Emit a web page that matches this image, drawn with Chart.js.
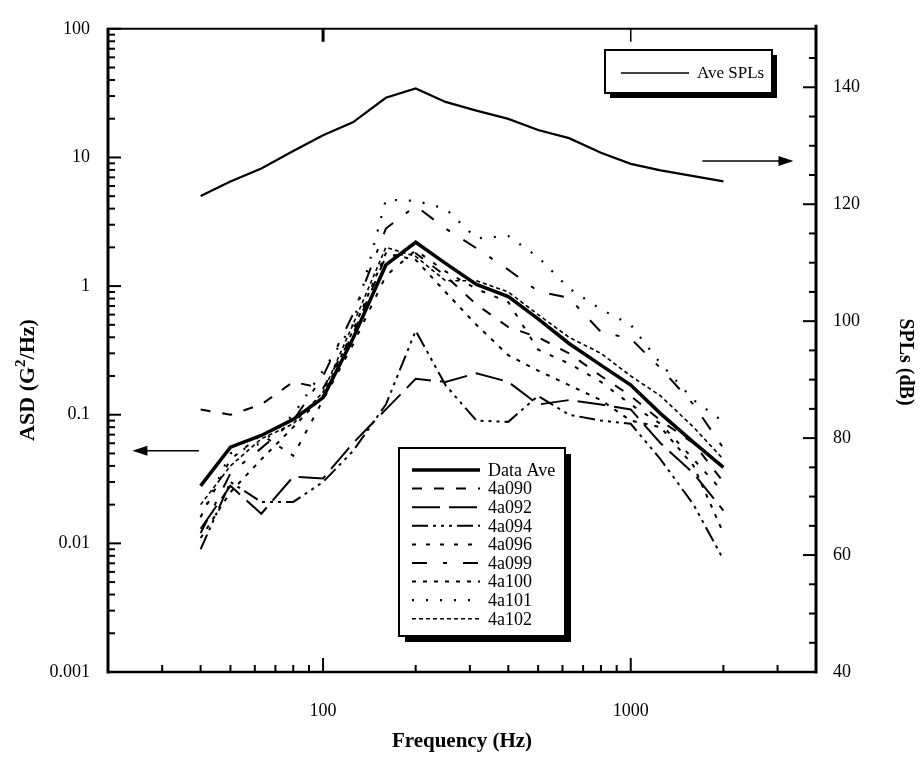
<!DOCTYPE html>
<html>
<head>
<meta charset="utf-8">
<script src="https://cdn.jsdelivr.net/npm/chart.js@4.4.1/dist/chart.umd.min.js"></script>
<style>
  html, body { margin: 0; padding: 0; background: #fff; }
</style>
</head>
<body>
<canvas id="chart-asd" width="922" height="760"></canvas>
<script>
// ---- data ----
const freqHz = [40, 50, 63, 80, 100, 125, 160, 200, 250, 315, 400, 500, 630, 800, 1000, 1250, 1600, 2000];

const aveSpl = [121.4, 123.9, 126.1, 129.1, 131.8, 134.0, 138.2, 139.8, 137.5, 136.0, 134.6, 132.7, 131.3, 128.8, 126.9, 125.8, 124.8, 123.9];

const dataAve = [0.028, 0.056, 0.069, 0.092, 0.136, 0.39, 1.46, 2.19, 1.5, 1.03, 0.83, 0.556, 0.358, 0.243, 0.17, 0.102, 0.061, 0.039];
const s4a090 = [0.11, 0.10, 0.12, 0.18, 0.16, 0.42, 1.7, 1.8, 1.2, 0.72, 0.48, 0.4, 0.3, 0.2, 0.14, 0.09, 0.06, 0.03];
const s4a092 = [0.013, 0.028, 0.017, 0.033, 0.032, 0.06, 0.11, 0.19, 0.18, 0.21, 0.18, 0.12, 0.13, 0.12, 0.11, 0.06, 0.035, 0.018];
const s4a094 = [0.009, 0.03, 0.021, 0.021, 0.03, 0.052, 0.12, 0.45, 0.17, 0.09, 0.088, 0.14, 0.1, 0.09, 0.085, 0.045, 0.02, 0.0075];
const s4a096 = [0.016, 0.045, 0.07, 0.048, 0.13, 0.35, 1.2, 1.9, 1.3, 0.95, 0.75, 0.32, 0.25, 0.18, 0.12, 0.085, 0.045, 0.025];
const s4a099 = [0.012, 0.035, 0.055, 0.09, 0.2, 0.6, 2.8, 4.2, 2.8, 1.97, 1.34, 0.91, 0.81, 0.44, 0.39, 0.23, 0.12, 0.055];
const s4a100 = [0.011, 0.025, 0.045, 0.08, 0.14, 0.45, 1.8, 1.6, 0.9, 0.5, 0.29, 0.22, 0.17, 0.13, 0.09, 0.08, 0.04, 0.012];
const s4a101 = [0.016, 0.05, 0.06, 0.1, 0.22, 0.5, 4.7, 4.6, 4.0, 2.35, 2.45, 1.68, 0.96, 0.66, 0.5, 0.25, 0.13, 0.088];
const s4a102 = [0.02, 0.04, 0.065, 0.085, 0.15, 0.5, 2.0, 1.7, 1.1, 1.1, 0.9, 0.6, 0.4, 0.3, 0.2, 0.14, 0.08, 0.045];

// ticks
const xLabelTicks = [100, 1000];
const xMinorTicks = [30, 40, 50, 60, 70, 80, 90, 200, 300, 400, 500, 600, 700, 800, 900, 2000, 3000];
const yLabelTicks = [0.001, 0.01, 0.1, 1, 10, 100];
const y2LabelTicks = [40, 60, 80, 100, 120, 140];

// arrows (data coordinates): [x from, x to, y]
const arrowAsd = [39.5, 24, 0.0525];
const arrowSpl = [1710, 3380, 127.4];

const serif = "'Liberation Serif', 'Times New Roman', serif";

function series(label, values, dash, width, axis) {
    return {
        label: label,
        data: freqHz.map((f, i) => ({ x: f, y: values[i] })),
        borderColor: '#000',
        backgroundColor: '#000',
        borderWidth: width,
        borderDash: dash,
        pointRadius: 0,
        tension: 0,
        fill: false,
        yAxisID: axis || 'y'
    };
}

const datasets = [
    series('Ave SPLs', aveSpl, [], 2.2, 'y2'),
    series('Data Ave', dataAve, [], 3.5),
    series('4a090', s4a090, [10, 12], 2),
    series('4a092', s4a092, [28, 9], 2),
    series('4a094', s4a094, [16, 5, 3, 5, 3, 5, 3, 5], 2),
    series('4a096', s4a096, [4, 10], 2),
    series('4a099', s4a099, [15, 16, 4, 16], 2),
    series('4a100', s4a100, [4, 7], 2),
    series('4a101', s4a101, [2, 12], 2.2),
    series('4a102', s4a102, [4, 3], 1.6)
];

// --- helpers ---
function seg(ctx, x1, y1, x2, y2, w) {
    ctx.lineWidth = w;
    ctx.beginPath();
    ctx.moveTo(x1, y1);
    ctx.lineTo(x2, y2);
    ctx.stroke();
}

function arrow(ctx, x1, y, x2) {
    const dir = x2 > x1 ? 1 : -1;
    seg(ctx, x1, y, x2 - dir * 12, y, 1.6);
    ctx.beginPath();
    ctx.moveTo(x2, y);
    ctx.lineTo(x2 - dir * 15, y - 5);
    ctx.lineTo(x2 - dir * 15, y + 5);
    ctx.closePath();
    ctx.fill();
}

function shadowBox(ctx, x, y, w, h, s) {
    ctx.fillStyle = '#000';
    ctx.fillRect(x + s, y + s, w, h);
    ctx.fillStyle = '#fff';
    ctx.fillRect(x, y, w, h);
    ctx.lineWidth = 2;
    ctx.strokeRect(x, y, w, h);
}

function sample(ctx, ds, x1, x2, y) {
    ctx.save();
    ctx.setLineDash(ds.borderDash);
    seg(ctx, x1, y, x2, y, ds.borderWidth);
    ctx.restore();
}

// frame, inward tick marks, arrows, legends, side titles
const decorPlugin = {
    id: 'decor',
    afterDraw(chart) {
        const { ctx, chartArea: a, scales } = chart;
        const sx = scales.x, sy = scales.y, s2 = scales.y2;
        ctx.save();
        ctx.strokeStyle = '#000';
        ctx.fillStyle = '#000';

        // frame
        seg(ctx, a.left, a.top - 1, a.left, a.bottom + 1.5, 3);
        seg(ctx, a.right, a.top - 4, a.right, a.bottom + 1.5, 3);
        seg(ctx, a.left, a.bottom, a.right, a.bottom, 2.5);
        seg(ctx, a.left, a.top, a.right, a.top, 2);

        // x ticks
        xMinorTicks.forEach(v => {
            const px = sx.getPixelForValue(v);
            seg(ctx, px, a.bottom, px, a.bottom - 7, 2);
        });
        xLabelTicks.forEach(v => {
            const px = sx.getPixelForValue(v);
            seg(ctx, px, a.bottom, px, a.bottom - 14, 2);
            seg(ctx, px, a.top, px, a.top + 13, v === 100 ? 3 : 1.5);
        });

        // left log ticks
        for (let d = -3; d <= 2; d++) {
            const base = Math.pow(10, d);
            const py = sy.getPixelForValue(base);
            seg(ctx, a.left, py, a.left + 13, py, 2);
            if (d < 2) {
                for (let k = 2; k <= 9; k++) {
                    const pm = sy.getPixelForValue(k * base);
                    seg(ctx, a.left, pm, a.left + 7, pm, 2);
                }
            }
        }

        // right linear ticks
        for (let v = 40; v <= 145; v += 5) {
            const py = s2.getPixelForValue(v);
            const len = v % 20 === 0 ? 13 : 7;
            seg(ctx, a.right, py, a.right - len, py, 2);
        }

        // arrows
        arrow(ctx, sx.getPixelForValue(arrowAsd[0]), sy.getPixelForValue(arrowAsd[2]), sx.getPixelForValue(arrowAsd[1]));
        arrow(ctx, sx.getPixelForValue(arrowSpl[0]), s2.getPixelForValue(arrowSpl[2]), sx.getPixelForValue(arrowSpl[1]));

        // legend 1 (SPL)
        const dsets = chart.data.datasets;
        shadowBox(ctx, 605, 50, 167, 43, 5);
        ctx.fillStyle = '#000';
        sample(ctx, { borderDash: [], borderWidth: 1.6 }, 621, 689, 73);
        ctx.font = `17px ${serif}`;
        ctx.textAlign = 'left';
        ctx.textBaseline = 'middle';
        ctx.fillText(dsets[0].label, 697, 74);

        // legend 2 (ASD series)
        shadowBox(ctx, 399, 448, 166, 188, 6);
        ctx.fillStyle = '#000';
        ctx.font = `18px ${serif}`;
        for (let i = 1; i < dsets.length; i++) {
            const y = 470 + (i - 1) * 18.6;
            sample(ctx, dsets[i], 412, 480, y);
            ctx.fillText(dsets[i].label, 488, y + 1);
        }

        // left title with superscript
        ctx.save();
        ctx.translate(28, 380);
        ctx.rotate(-Math.PI / 2);
        const parts = [['ASD (G', `bold 22px ${serif}`, 0], ['2', `bold 15px ${serif}`, -7], ['/Hz)', `bold 22px ${serif}`, 0]];
        let total = 0;
        parts.forEach(p => { ctx.font = p[1]; total += ctx.measureText(p[0]).width; });
        let tx = -total / 2;
        parts.forEach(p => {
            ctx.font = p[1];
            ctx.fillText(p[0], tx, p[2]);
            tx += ctx.measureText(p[0]).width;
        });
        ctx.restore();

        // right title
        ctx.save();
        ctx.translate(905, 362);
        ctx.rotate(Math.PI / 2);
        ctx.font = `bold 20px ${serif}`;
        ctx.textAlign = 'center';
        ctx.fillText('SPLs (dB)', 0, 0);
        ctx.restore();

        ctx.restore();
    }
};

const tickFont = { family: serif, size: 18 };
const noGrid = { display: false, drawTicks: false };

new Chart(document.getElementById('chart-asd').getContext('2d'), {
    type: 'line',
    data: { datasets: datasets },
    options: {
        responsive: false,
        animation: false,
        events: [],
        layout: { padding: { top: 18, left: 0, right: 0, bottom: 0 } },
        plugins: { legend: { display: false }, tooltip: { enabled: false } },
        scales: {
            x: {
                type: 'logarithmic',
                position: 'bottom',
                min: 20,
                max: 4000,
                grid: noGrid,
                border: { display: false },
                afterBuildTicks: s => { s.ticks = xLabelTicks.map(v => ({ value: v })); },
                afterFit: s => { s.height = 88; },
                ticks: {
                    autoSkip: false, maxRotation: 0, padding: 28, color: '#000', font: tickFont,
                    callback: v => String(v)
                },
                title: {
                    display: true, text: 'Frequency (Hz)', color: '#000',
                    font: { family: serif, size: 21, weight: 'bold' },
                    padding: { top: 0, bottom: 6 }
                }
            },
            y: {
                type: 'logarithmic',
                position: 'left',
                min: 0.001,
                max: 100,
                grid: noGrid,
                border: { display: false },
                afterBuildTicks: s => { s.ticks = yLabelTicks.map(v => ({ value: v })); },
                afterFit: s => { s.width = 108; },
                ticks: {
                    autoSkip: false, padding: 18, color: '#000', font: tickFont,
                    callback: v => String(v)
                }
            },
            y2: {
                type: 'linear',
                position: 'right',
                min: 40,
                max: 150,
                grid: noGrid,
                border: { display: false },
                afterBuildTicks: s => { s.ticks = y2LabelTicks.map(v => ({ value: v })); },
                afterFit: s => { s.width = 106; },
                ticks: {
                    autoSkip: false, padding: 17, color: '#000', font: tickFont,
                    callback: v => String(v)
                }
            }
        }
    },
    plugins: [decorPlugin]
});
</script>
</body>
</html>
